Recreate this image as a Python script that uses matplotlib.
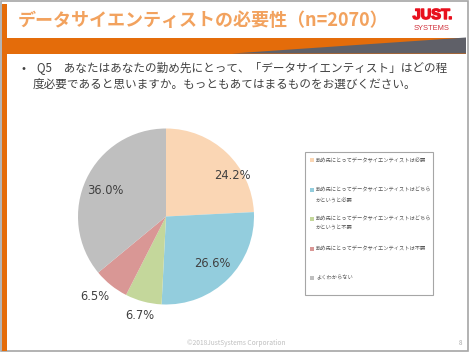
import matplotlib
matplotlib.use("Agg")
import matplotlib.pyplot as plt
from matplotlib.patches import Rectangle, Polygon
import matplotlib.patheffects as pe
import numpy as np

plt.rcParams['font.family'] = ['Noto Sans CJK JP', 'DejaVu Sans']

# ---- data ----
title = "データサイエンティストの必要性（n=2070）"
question_l1 = "Q5　あなたはあなたの勤め先にとって、「データサイエンティスト」はどの程"
question_l2 = "度必要であると思いますか。もっともあてはまるものをお選びください。"
categories = [
    "勤め先にとってデータサイエンティストは必要",
    "勤め先にとってデータサイエンティストはどちら\nかというと必要",
    "勤め先にとってデータサイエンティストはどちら\nかというと不要",
    "勤め先にとってデータサイエンティストは不要",
    "よくわからない",
]
values = [24.2, 26.6, 6.7, 6.5, 36.0]
colors = ["#FAD6B4", "#93CDDD", "#C4D79B", "#D99795", "#BFBFBF"]
footer = "©2018JustSystems Corporation"
page = "8"

W, H = 470, 353
fig = plt.figure(figsize=(W / 100, H / 100), dpi=100)
fig.patch.set_facecolor("white")

# background overlay axes in pixel coordinates (y down)
bg = fig.add_axes([0, 0, 1, 1])
bg.set_xlim(0, W)
bg.set_ylim(H, 0)
bg.axis("off")

# slide border
bg.add_patch(Rectangle((0.5, 0.5), W - 3, H - 2.5, fill=False, ec="#A6A6A6", lw=1.2))
# left orange bar
bg.add_patch(Rectangle((1.5, 4), 5.5, H - 6, color="#E46C0A", lw=0))
# orange band
bg.add_patch(Rectangle((6, 37.5), 460, 16, color="#E46C0A", lw=0))
# gray wedge
bg.add_patch(Polygon([(232, 53.5), (466, 37.5), (466, 53.5)], closed=True, color="#5F6068", lw=0))

# title
bg.text(18, 20, title, color="#F2A25E", fontsize=13, fontweight="bold", va="center", ha="left")
# logo
bg.text(432.5, 15, "JUST.", color="#E8101E", fontsize=10.5, fontweight="bold",
        va="center", ha="center", family="Liberation Sans",
        path_effects=[pe.withStroke(linewidth=1.0, foreground="#E8101E")])
bg.text(431.5, 28, "SYSTEMS", color="#D0303A", fontsize=5.4, va="center", ha="center",
        family="Liberation Sans")

# question text
bg.text(22, 68, "•", color="#404040", fontsize=8.5, va="center", ha="left")
bg.text(37, 68, question_l1, color="#404040", fontsize=8.35, va="center", ha="left")
bg.text(33, 84, question_l2, color="#404040", fontsize=8.35, va="center", ha="left")

# footer
bg.text(236, 343, footer, color="#BFBFBF", fontsize=4.8, va="center", ha="center")
bg.text(460, 343, page, color="#A6A6A6", fontsize=4.5, va="center", ha="center")

# ---- pie ----
cx, cy, R = 166, 216.5, 84
half = 110
ax = fig.add_axes([(cx - half) / W, (H - cy - half) / H, 2 * half / W, 2 * half / H])
ax.set_xlim(-half / R, half / R)
ax.set_ylim(-half / R, half / R)
ax.axis("off")
wedges, _ = ax.pie(values, colors=colors, startangle=90, counterclock=False,
                   radius=1, wedgeprops=dict(linewidth=0))

label_r = [0.89, 0.75, 1.16, 1.22, 0.75]
label_dang = [-14.7, 0, 0, -3, 2]
cum = 0
for v, r, da in zip(values, label_r, label_dang):
    mid = 90 - (cum + v / 2) / 100 * 360 + da
    cum += v
    t = np.deg2rad(mid)
    ax.text(r * np.cos(t), r * np.sin(t), f"{v:.1f}%", ha="center", va="center",
            fontsize=8.3, color="#404040", family="DejaVu Sans")

# ---- legend box ----
bg.add_patch(Rectangle((305, 152), 128, 143, fill=False, ec="#A6A6A6", lw=0.8))
ys = [160, 190, 219, 249, 278]
for lab, c, y in zip(categories, colors, ys):
    bg.add_patch(Rectangle((309.5, y - 2.2), 4.4, 4.4, color=c, lw=0))
    bg.text(316, y - 3.3, lab, color="#595959", fontsize=3.8, va="top", ha="left",
            linespacing=2.0)

fig.savefig("out.png", dpi=100)
